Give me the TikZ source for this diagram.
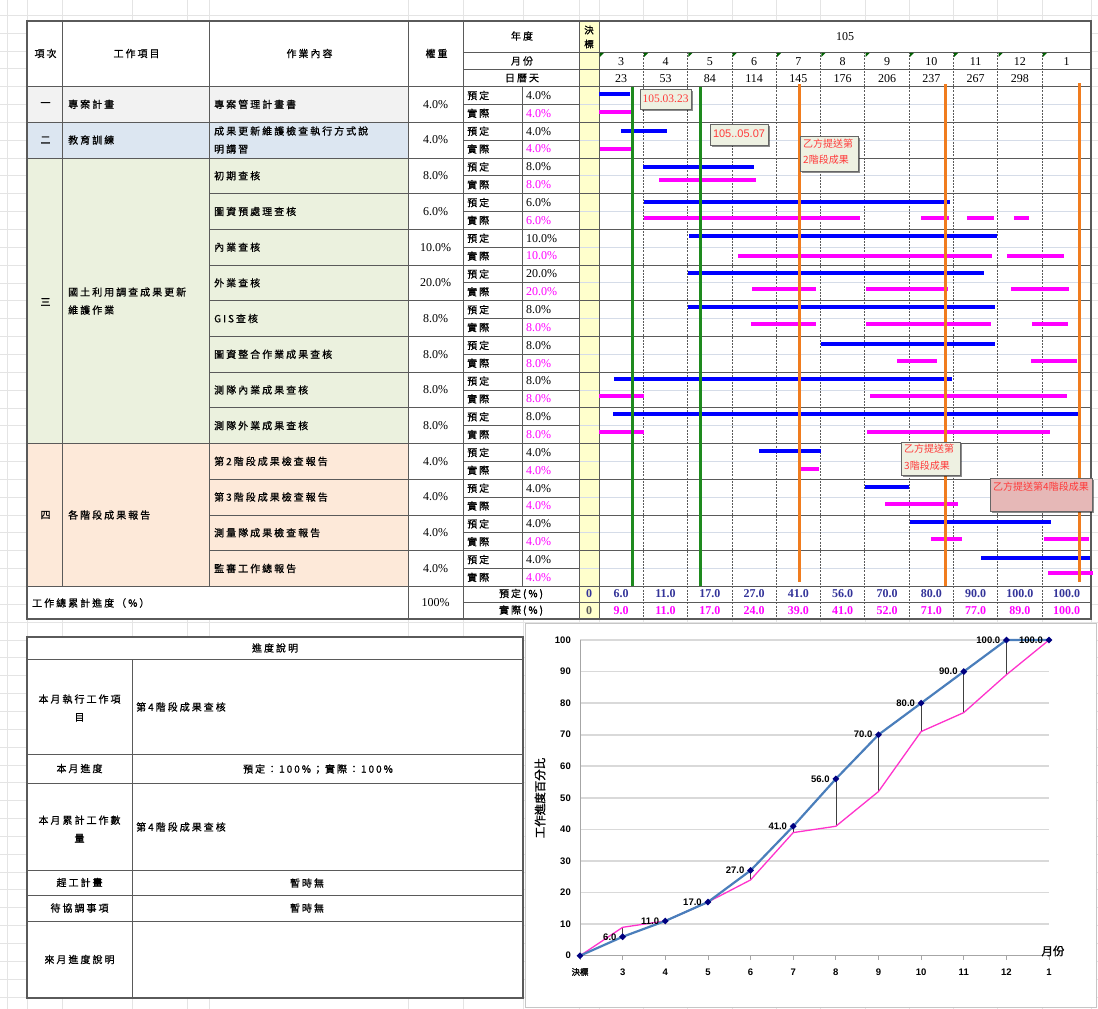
\documentclass[tikz,border=0pt]{standalone}
\usepackage{fontspec}
\setmainfont{Liberation Serif}
\newfontfamily\cjk[LetterSpace=20,FakeBold=0.7]{Noto Sans CJK TC}
\newfontfamily\cjkt{Noto Sans CJK TC}
\newfontfamily\cjkb[FakeBold=1.5]{Noto Sans CJK TC}
\newfontfamily\sansf{Liberation Sans}
\usetikzlibrary{shadows,shapes.geometric}
\definecolor{tline}{HTML}{5A5A5A}
\definecolor{subc}{HTML}{D5DCE8}
\definecolor{xlg}{HTML}{E4E4E4}
\definecolor{fillA}{HTML}{F2F2F2}
\definecolor{fillB}{HTML}{DCE6F1}
\definecolor{fillC}{HTML}{EBF1DE}
\definecolor{fillD}{HTML}{FDE9D9}
\definecolor{yel}{HTML}{FFFFCC}
\definecolor{pblue}{HTML}{0000FF}
\definecolor{amag}{HTML}{FF00FF}
\definecolor{gline}{HTML}{1E8A1E}
\definecolor{dkgreen}{HTML}{006100}
\definecolor{oline}{HTML}{F07C1E}
\definecolor{callf}{HTML}{EEF1E2}
\definecolor{callr}{HTML}{FF3A3A}
\definecolor{pinkf}{HTML}{E6B8B7}
\definecolor{navyt}{HTML}{333399}
\definecolor{cblue}{HTML}{4A7EBB}
\definecolor{cmag}{HTML}{FF33CC}
\definecolor{cgrid}{HTML}{D9D9D9}
\definecolor{mk}{HTML}{000080}
\tikzset{
  tl/.style={draw=tline, line width=0.8pt},
  outerb/.style={draw=tline, line width=2pt},
  subln/.style={draw=subc, line width=0.8pt},
  xgrid/.style={draw=xlg, line width=0.6pt},
  mdash/.style={draw=tline, line width=0.7pt, dash pattern=on 2pt off 1.2pt},
  pbar/.style={draw=pblue, line width=4pt},
  abar/.style={draw=amag, line width=4pt},
  gvl/.style={draw=gline, line width=3pt},
  ovl/.style={draw=oline, line width=3pt},
  ct/.style={font=\cjk\fontsize{10}{18}\selectfont, inner sep=0pt},
  numt/.style={font=\fontsize{12}{14}\selectfont, inner sep=0pt},
  numb/.style={font=\bfseries\fontsize{12}{14}\selectfont, inner sep=0pt},
  callout/.style={draw=gray!80!black, line width=1pt, fill=callf, inner sep=0pt,
    drop shadow={shadow xshift=1.5pt, shadow yshift=-1.5pt, opacity=.45, fill=black}},
  calltxt/.style={font=\cjkt\fontsize{10}{16.5}\selectfont, text=callr, inner sep=0pt, align=left},
  chl/.style={font=\sansf\bfseries\fontsize{9.5}{10}\selectfont, inner sep=0pt},
}
\begin{document}
\begin{tikzpicture}[x=1pt,y=-1pt]
\useasboundingbox (0,0) rectangle (1098,1009);
\fill[white] (0,0) rectangle (1098,1009);

% ---------- faint spreadsheet grid (background)
\foreach \j in {-4,...,52}{
  \pgfmathsetmacro{\yg}{86.5+17.85*\j}
  \draw[xgrid] (0,\yg) -- (1098,\yg);
}
\foreach \x in {7,27,62,132,187.5,209,408,463,523,579,599,643.3,687.6,731.9,776.2,820.5,864.8,909.1,953.4,997.7,1042,1091}
  \draw[xgrid] (\x,0) -- (\x,1009);
\fill[white] (27,20.5) rectangle (1091,619);
\fill[white] (27,637) rectangle (523,998);
\fill[white] (525,623) rectangle (1096,1007);

% ---------- top table fills
\fill[fillA] (27,86.5) rectangle (408,122.2);
\fill[fillB] (27,122.2) rectangle (408,157.9);
\fill[fillC] (27,157.9) rectangle (408,443.5);
\fill[fillD] (27,443.5) rectangle (408,586);
\fill[yel] (579,20.5) rectangle (599,619);

% sub-row lines
\foreach \i in {0,...,13}{
  \pgfmathsetmacro{\ym}{86.5+35.7*\i+17.85}
  \draw[subln] (579,\ym) -- (1091,\ym);
  \draw[tl] (463,\ym) -- (579,\ym);
}
% dashed month lines
\foreach \k in {1,...,10}{
  \pgfmathsetmacro{\xk}{599+44.3*\k}
  \draw[mdash] (\xk,52) -- (\xk,619);
}
% row boundaries
\foreach \i/\xs in {1/27,2/27,3/209,4/209,5/209,6/209,7/209,8/209,9/209,10/27,11/209,12/209,13/209}{
  \pgfmathsetmacro{\yb}{86.5+35.7*\i}
  \draw[tl] (\xs,\yb) -- (1091,\yb);
}
\draw[tl] (27,86.5) -- (1091,86.5);
\draw[tl] (27,586) -- (1091,586);
\draw[tl] (463,52) -- (1091,52);
\draw[tl] (463,69.5) -- (1091,69.5);
\draw[tl] (463,602) -- (1091,602);
\foreach \x/\ya/\yb in {62/20.5/586, 209/20.5/586, 408/20.5/619, 463/20.5/619, 522/86.5/586, 579/20.5/619, 599/20.5/619}
  \draw[tl] (\x,\ya) -- (\x,\yb);
\draw[outerb] (27,20.5) rectangle (1091,619);

% comment markers in month row
\foreach \k in {0,...,10}{
  \pgfmathsetmacro{\xk}{599+44.3*\k}
  \fill[dkgreen] (\xk+0.8,52.8) -- (\xk+5,52.8) -- (\xk+0.8,57) -- cycle;
}

% ---------- bars
\foreach \xa/\xb/\y in {599/630/94, 621/667/131, 643/754/167, 644/950/202, 689/997/236, 688/984/273, 688/995/307, 821/995/344, 614/952/379, 613/1080/414, 759/821/451, 865/909/487, 910/1051/522, 981/1090/558}
  \draw[pbar] (\xa,\y) -- (\xb,\y);
\foreach \xa/\xb/\y in {599/632/112, 600/632/149, 659/756/180, 644/860/218, 921/949/218, 967/994/218, 1014/1029/218, 738/992/256, 1007/1064/256, 752/816/289, 866/948/289, 1011/1069/289, 751/816/324, 866/991/324, 1032/1068/324, 897/937/361, 1031/1077/361, 599/644/396, 870/1067/396, 599/644/432, 867/1050/432, 800/819/469, 885/958/504, 931/962/539, 1044/1089/539, 1048/1093/573}
  \draw[abar] (\xa,\y) -- (\xb,\y);

% milestone lines
\draw[gvl] (632,86.5) -- (632,586);
\draw[gvl] (700,86.5) -- (700,586);
\draw[ovl] (799,84) -- (799,582);
\draw[ovl] (945,84) -- (945,586);
\draw[ovl] (1079,83) -- (1079,582);

% callouts
\node[callout, minimum width=51pt, minimum height=20pt, anchor=north west] (c1) at (640,89) {};
\node[font=\fontsize{11.5}{13}\selectfont, text=callr, inner sep=0pt] (c1t) at (665.5,98.5) {105.03.23};
\node[callout, minimum width=58pt, minimum height=21pt, anchor=north west] (c2) at (710,124) {};
\node[font=\sansf\fontsize{11}{13}\selectfont, text=callr, inner sep=0pt] (c2t) at (739,134) {105..05.07};
\node[callout, minimum width=58pt, minimum height=35pt, anchor=north west] (c3) at (800,136) {};
\node[calltxt, anchor=north west] (c3t) at (803,138.5) {乙方提送第\\2階段成果};
\node[callout, minimum width=59pt, minimum height=33pt, anchor=north west] (c4) at (901,442) {};
\node[calltxt, anchor=north west] (c4t) at (904,444) {乙方提送第\\3階段成果};
\node[callout, fill=pinkf, minimum width=102pt, minimum height=33pt, anchor=north west] (c5) at (990,478) {};
\node[calltxt, anchor=north] (c5t) at (1041,481.5) {乙方提送第4階段成果};

% ---------- header text
\node[ct] (h1) at (45.5,53.5) {項次};
\node[ct] (h2) at (136.5,53.5) {工作項目};
\node[ct] (h3) at (309.5,53.5) {作業內容};
\node[ct] (h4) at (436.5,53.5) {權重};
\node[ct] (h5) at (522,36) {年度};
\node[ct] (h6) at (522,61) {月份};
\node[ct] (h7) at (522,78) {日曆天};
\node[font=\cjkb\fontsize{9.5}{14}\selectfont, inner sep=0pt, align=center] (h8) at (589,37) {決\\標};
\node[numt] (h9) at (845,37) {105};
\foreach \xc/\m/\d [count=\k] in {621.2/3/23, 665.5/4/53, 709.8/5/84, 754.1/6/114, 798.4/7/145, 842.7/8/176, 887.0/9/206, 931.3/10/237, 975.6/11/267, 1019.9/12/298}{
  \node[numt] (mo\k) at (\xc,61.5) {\m};
  \node[numt] (dy\k) at (\xc,78.5) {\d};
}
\node[numt] (mo11) at (1066.5,61.5) {1};

% ---------- left columns text
\node[ct] (n1) at (45.5,104.3) {一};
\node[ct, anchor=west] (g1) at (68,104.3) {專案計畫};
\node[ct] (n2) at (45.5,140) {二};
\node[ct, anchor=west] (g2) at (68,140) {教育訓練};
\node[ct] (n3) at (45.5,302) {三};
\node[ct, anchor=west, align=left] (g3) at (68,301) {國土利用調查成果更新\\維護作業};
\node[ct] (n4) at (45.5,515) {四};
\node[ct, anchor=west] (g4) at (68,515) {各階段成果報告};
\node[ct, anchor=west, align=left] (t2) at (214,140) {成果更新維護檢查執行方式說\\明講習};
\foreach \i/\task in {1/專案管理計畫書,3/初期查核,4/圖資預處理查核,5/內業查核,6/外業查核,7/GIS查核,8/圖資整合作業成果查核,9/測隊內業成果查核,10/測隊外業成果查核,11/第2階段成果檢查報告,12/第3階段成果檢查報告,13/測量隊成果檢查報告,14/監審工作總報告}{
  \pgfmathsetmacro{\yc}{86.5+35.7*(\i-1)+17.85}
  \node[ct, anchor=west] (t\i) at (214,\yc) {\task};
}
\foreach \w [count=\i] in {4.0,4.0,8.0,6.0,10.0,20.0,8.0,8.0,8.0,8.0,4.0,4.0,4.0,4.0}{
  \pgfmathsetmacro{\yc}{86.5+35.7*(\i-1)+17.85}
  \node[numt] (w\i) at (435.5,\yc) {\w\%};
  \node[ct, anchor=west] (pl\i) at (467,\yc-8.9) {預定};
  \node[ct, anchor=west] (ac\i) at (467,\yc+8.9) {實際};
  \node[numt, anchor=west] (pv\i) at (526,\yc-8.9) {\w\%};
  \node[numt, anchor=west, text=amag] (av\i) at (526,\yc+8.9) {\w\%};
}

% ---------- total row
\node[ct, anchor=west] (tot) at (32,603) {工作總累計進度（\%）};
\node[numt] (totw) at (435.5,603) {100\%};
\node[font=\cjk\fontsize{10}{12}\selectfont, inner sep=0pt] (totp) at (521,594) {預定(\%)};
\node[font=\cjk\fontsize{10}{12}\selectfont, inner sep=0pt] (tota) at (521,610.5) {實際(\%)};
\node[numb, text=navyt] (z1) at (589,594) {0};
\node[numb, text=gray!70!black] (z2) at (589,610.5) {0};
\foreach \xc/\p/\a [count=\k] in {621.2/6.0/9.0, 665.5/11.0/11.0, 709.8/17.0/17.0, 754.1/27.0/24.0, 798.4/41.0/39.0, 842.7/56.0/41.0, 887.0/70.0/52.0, 931.3/80.0/71.0, 975.6/90.0/77.0, 1019.9/100.0/89.0, 1066.5/100.0/100.0}{
  \node[numb, text=navyt] (sp\k) at (\xc,594) {\p};
  \node[numb, text=amag] (sa\k) at (\xc,610.5) {\a};
}

% ---------- bottom-left table
\foreach \y in {659,754,783,870,895,921} \draw[tl] (27,\y) -- (523,\y);
\draw[tl] (132,659) -- (132,998);
\draw[outerb] (27,637) rectangle (523,998);
\node[ct] (b0) at (275,648) {進度說明};
\node[ct, align=center] (b1) at (79.5,708) {本月執行工作項\\目};
\node[ct, anchor=west] (b1v) at (136,707) {第4階段成果查核};
\node[ct] (b2) at (79.5,768.5) {本月進度};
\node[ct] (b2v) at (318,769) {預定：100\%；實際：100\%};
\node[ct, align=center] (b3) at (79.5,829) {本月累計工作數\\量};
\node[ct, anchor=west] (b3v) at (136,827) {第4階段成果查核};
\node[ct] (b4) at (79.5,882.5) {趕工計畫};
\node[ct] (b4v) at (307,883) {暫時無};
\node[ct] (b5) at (79.5,908) {待協調事項};
\node[ct] (b5v) at (307,908) {暫時無};
\node[ct] (b6) at (79.5,959.5) {來月進度說明};

% ---------- chart
\draw[draw=gray!45, line width=0.6pt] (525,623) rectangle (1096,1007);
\foreach \v in {10,20,...,100}{
  \draw[cgrid, line width=1.6pt] (580,{955.7-3.157*\v}) -- (1049,{955.7-3.157*\v});
  \node[chl, anchor=east] (yl\v) at (571,{955.7-3.157*\v}) {\v};
}
\node[chl, anchor=east] (yl0) at (571,955.7) {0};
\draw[gray!70, line width=1pt] (580,640) -- (580,955.7) -- (1049,955.7);
\foreach \i in {0,...,11} \draw[gray!70, line width=0.8pt] ({580+42.64*\i},955.7) -- ({580+42.64*\i},960);
\node[font=\cjkb\fontsize{8.5}{10}\selectfont, inner sep=0pt] (xl0) at (580,972) {決標};
\foreach \m [count=\i] in {3,4,5,6,7,8,9,10,11,12,1}
  \node[chl] (xl\i) at ({580+42.64*\i},972) {\m};
\node[font=\cjkb\fontsize{11.5}{13}\selectfont, inner sep=0pt] (xt) at (1053,951) {月份};
\node[font=\cjkb\fontsize{11.5}{13}\selectfont, inner sep=0pt, rotate=90] (yt) at (540,798) {工作進度百分比};

\foreach \v [count=\i from 0] in {0,6,11,17,27,41,56,70,80,90,100,100}
  \coordinate (p\i) at ({580+42.64*\i},{955.7-3.157*\v});
\foreach \v [count=\i from 0] in {0,9,11,17,24,39,41,52,71,77,89,100}
  \coordinate (a\i) at ({580+42.64*\i},{955.7-3.157*\v});
\foreach \i in {0,...,11} \draw[draw=black!75, line width=0.6pt] (p\i) -- (a\i);
\draw[cmag, line width=1.3pt, line join=round] (a0) -- (a1) -- (a2) -- (a3) -- (a4) -- (a5) -- (a6) -- (a7) -- (a8) -- (a9) -- (a10) -- (a11);
\draw[cblue, line width=2.2pt, line join=round] (p0) -- (p1) -- (p2) -- (p3) -- (p4) -- (p5) -- (p6) -- (p7) -- (p8) -- (p9) -- (p10) -- (p11);
\foreach \i in {0,...,11}
  \node[diamond, fill=mk, inner sep=0pt, minimum size=7pt] (m\i) at (p\i) {};
\foreach \lab [count=\i] in {6.0,11.0,17.0,27.0,41.0,56.0,70.0,80.0,90.0,100.0,100.0}
  \node[chl, anchor=east, xshift=-6pt] (dl\i) at (p\i) {\lab};
\end{tikzpicture}
\end{document}
